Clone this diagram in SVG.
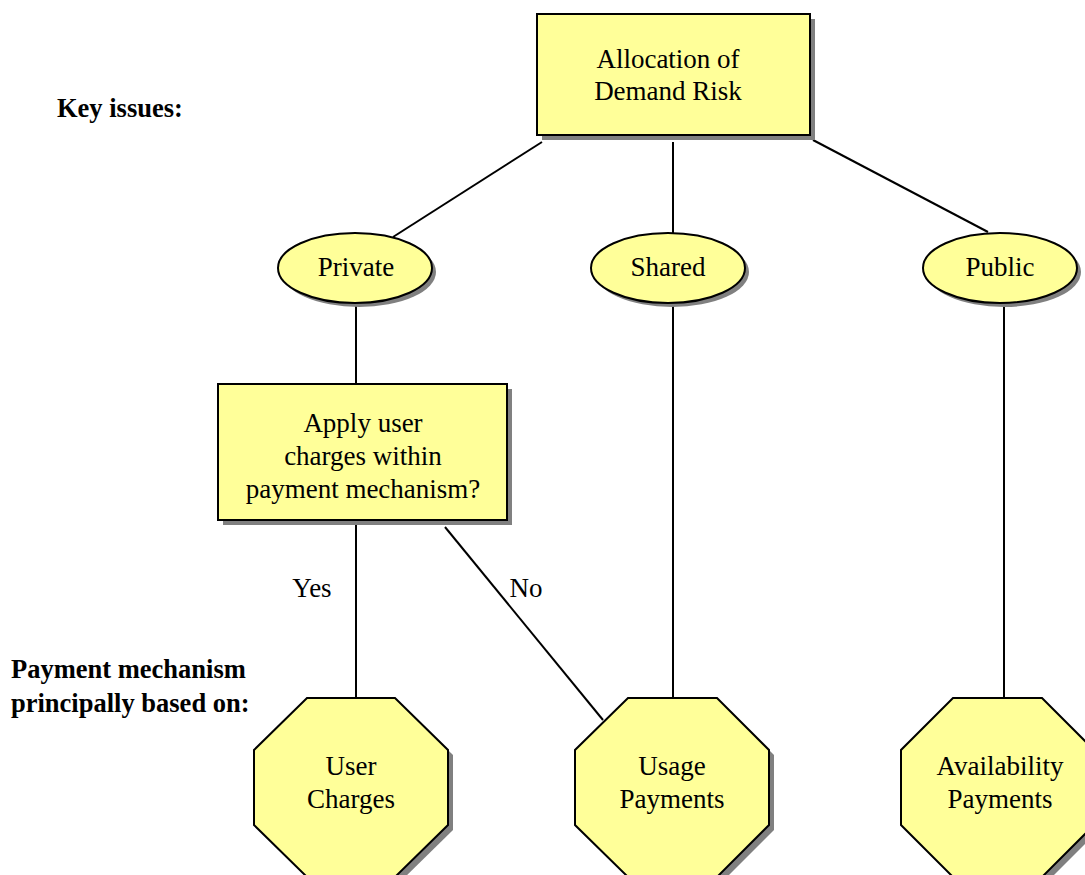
<svg xmlns="http://www.w3.org/2000/svg" width="1085" height="875" viewBox="0 0 1085 875">
  <style>
    .shape { fill: #ffff99; stroke: #000; stroke-width: 2; }
    .shadow { fill: #808080; stroke: none; }
    .conn { stroke: #000; stroke-width: 2; fill: none; }
    .t { font-family: "Liberation Serif", "Times New Roman", serif; font-size: 27px; fill: #000; text-anchor: middle; }
    .lbl { font-family: "Liberation Serif", "Times New Roman", serif; font-size: 27px; fill: #000; text-anchor: middle; }
    .side { font-family: "Liberation Serif", "Times New Roman", serif; font-size: 26.5px; font-weight: bold; fill: #000; }
  </style>

  <!-- side headings -->
  <text class="side" x="57" y="117">Key issues:</text>
  <text class="side" x="11" y="678">Payment mechanism</text>
  <text class="side" x="11" y="712">principally based on:</text>

  <!-- connectors -->
  <g id="connectors">
    <line class="conn" x1="542" y1="142" x2="393" y2="237"/>
    <line class="conn" x1="673" y1="142" x2="673" y2="233"/>
    <line class="conn" x1="813" y1="140" x2="988" y2="232"/>
    <line class="conn" x1="356" y1="303" x2="356" y2="384"/>
    <line class="conn" x1="673" y1="303" x2="673" y2="698"/>
    <line class="conn" x1="1004" y1="303" x2="1004" y2="698"/>
    <line class="conn" x1="356" y1="520" x2="356" y2="698"/>
    <line class="conn" x1="445" y1="527" x2="603" y2="720"/>
    <text class="lbl" x="312" y="597">Yes</text>
    <text class="lbl" x="526" y="597">No</text>
  </g>

  <!-- root box -->
  <g id="allocation">
    <rect class="shadow" x="542" y="19" width="273" height="121"/>
    <rect class="shape" x="537" y="14" width="273" height="121"/>
    <text class="t" x="668" y="68">Allocation of</text>
    <text class="t" x="668" y="100">Demand Risk</text>
  </g>

  <!-- risk holders -->
  <g id="private">
    <ellipse class="shadow" cx="359" cy="272" rx="77" ry="35"/>
    <ellipse class="shape" cx="355" cy="268" rx="77" ry="35"/>
    <text class="t" x="356" y="276">Private</text>
  </g>
  <g id="shared">
    <ellipse class="shadow" cx="672" cy="272" rx="77" ry="35"/>
    <ellipse class="shape" cx="668" cy="268" rx="77" ry="35"/>
    <text class="t" x="668" y="276">Shared</text>
  </g>
  <g id="public">
    <ellipse class="shadow" cx="1004" cy="272" rx="77" ry="35"/>
    <ellipse class="shape" cx="1000" cy="268" rx="77" ry="35"/>
    <text class="t" x="1000" y="276">Public</text>
  </g>

  <!-- decision -->
  <g id="decision">
    <rect class="shadow" x="223" y="389" width="289" height="136"/>
    <rect class="shape" x="218" y="384" width="289" height="136"/>
    <text class="t" x="363" y="432">Apply user</text>
    <text class="t" x="363" y="465">charges within</text>
    <text class="t" x="363" y="498">payment mechanism?</text>
  </g>

  <!-- payment outcomes -->
  <g id="user-charges">
    <polygon class="shadow" points="312,703 400,703 453,755 453,830 400,882 312,882 259,830 259,755"/>
    <polygon class="shape" points="307,698 395,698 448,750 448,825 395,877 307,877 254,825 254,750"/>
    <text class="t" x="351" y="775">User</text>
    <text class="t" x="351" y="808">Charges</text>
  </g>
  <g id="usage-payments">
    <polygon class="shadow" points="633,703 722,703 774,755 774,830 722,882 633,882 580,830 580,755"/>
    <polygon class="shape" points="628,698 717,698 769,750 769,825 717,877 628,877 575,825 575,750"/>
    <text class="t" x="672" y="775">Usage</text>
    <text class="t" x="672" y="808">Payments</text>
  </g>
  <g id="availability-payments">
    <polygon class="shadow" points="958,703 1047,703 1099,755 1099,830 1047,882 958,882 906,830 906,755"/>
    <polygon class="shape" points="953,698 1042,698 1094,750 1094,825 1042,877 953,877 901,825 901,750"/>
    <text class="t" x="1000" y="775">Availability</text>
    <text class="t" x="1000" y="808">Payments</text>
  </g>
</svg>
